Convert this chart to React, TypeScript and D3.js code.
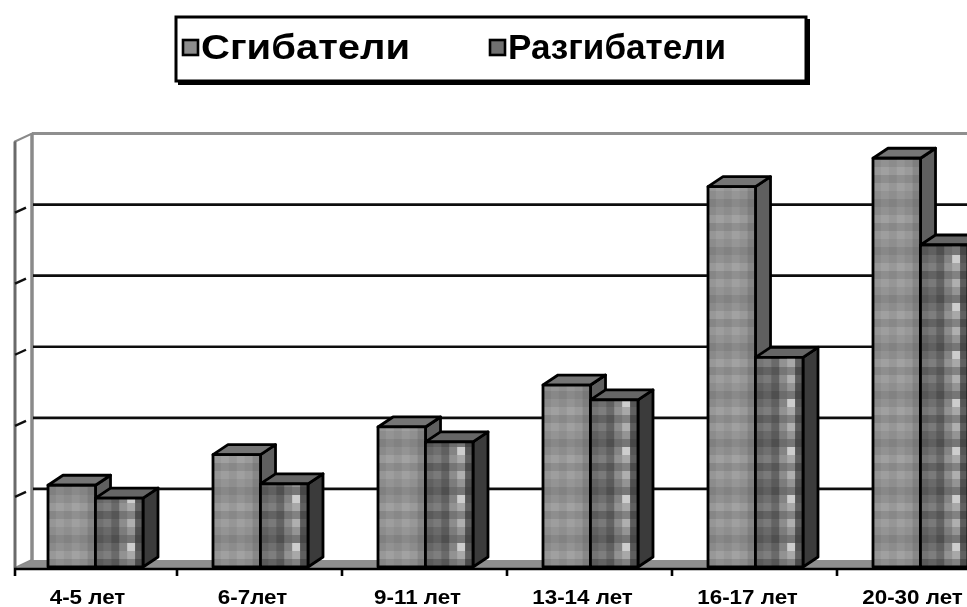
import React from "react";
import * as d3 from "d3";

// Age groups and muscle-group strength values
const categories = ["4-5 лет", "6-7лет", "9-11 лет", "13-14 лет", "16-17 лет", "20-30 лет"];
const seriesNames = ["Сгибатели", "Разгибатели"];
const flexors = [11.5, 15.8, 19.7, 25.6, 53.5, 57.5];
const extensors = [9.7, 11.7, 17.6, 23.5, 29.5, 45.3];
const gridTicks = [0, 10, 20, 30, 40, 50, 60];

const W = 967;
const H = 607;

// 3D projection offsets
const WALL_DX = 17;
const WALL_DY = -8;
const BAR_DX = 15;
const BAR_DY = -10;

// Checker tiles giving each series its grainy gray texture (gray levels, 6x6 cells)
const flexTile = [
  [150, 158, 150, 160, 152, 135],
  [140, 148, 142, 150, 144, 128],
  [128, 136, 130, 138, 132, 120],
  [138, 146, 140, 148, 140, 126],
  [152, 160, 152, 162, 154, 136],
  [134, 142, 136, 144, 138, 124],
];
const extTile = [
  [112, 122, 100, 140, 175, 92],
  [96, 106, 90, 124, 148, 80],
  [86, 96, 80, 108, 118, 70],
  [102, 112, 96, 132, 205, 86],
  [116, 126, 106, 146, 168, 96],
  [90, 100, 86, 116, 130, 76],
];
const gray = (v: number) => `rgb(${v},${v},${v})`;

export default function App() {
  const x = d3.scaleBand<string>().domain(categories).range([12, 1002]);
  const groupW = 95;
  const inner = d3.scaleBand<string>().domain(seriesNames).range([0, groupW]);
  const barW = inner.bandwidth();

  // back wall scale and bar (front) scale
  const yWall = d3.scaleLinear().domain([0, 60]).range([560, 133.5]);
  const yBar = d3.scaleLinear().domain([0, 60]).range([567, 567 - 426.5]);

  const frontX = 15;
  const wallX = frontX + WALL_DX;
  const axisY = 569;

  const bars: { key: string; s: number; x0: number; yTop: number; yBot: number }[] = [];
  categories.forEach((c, i) => {
    const gx = (x(c) as number) + x.bandwidth() / 2 - groupW / 2 + 1;
    [flexors[i], extensors[i]].forEach((v, s) => {
      bars.push({
        key: `${i}-${s}`,
        s,
        x0: gx + (inner(seriesNames[s]) as number),
        yTop: yBar(v),
        yBot: yBar(0),
      });
    });
  });

  const tiles = [flexTile, extTile];
  const cell = barW / 6;
  const sideFill = ["#5f5f5f", "#3a3a3a"];
  const topFill = ["#747474", "#666666"];
  const swatchFill = ["#8c8c8c", "#707070"];

  return (
    <svg
      width={W}
      height={H}
      viewBox={`0 0 ${W} ${H}`}
      style={{ position: "absolute", left: 0, top: 0, background: "#fff" }}
    >
      <defs>
        {bars.map((b) => (
          <pattern
            key={b.key}
            id={`tex-${b.key}`}
            patternUnits="userSpaceOnUse"
            x={b.x0}
            y={b.yBot}
            width={barW}
            height={48}
          >
            {tiles[b.s].map((row, r) =>
              row.map((v, k) => (
                <rect key={`${r}-${k}`} x={k * cell} y={r * 8} width={cell + 0.3} height={8.3} fill={gray(v)} />
              ))
            )}
          </pattern>
        ))}
        <filter id="soft" x="-5%" y="-5%" width="110%" height="110%">
          <feGaussianBlur stdDeviation="0.45" />
        </filter>
      </defs>

      <g filter="url(#soft)">
        {/* side wall */}
        <polygon
          points={`${frontX},${yWall(60) - WALL_DY} ${wallX},${yWall(60)} ${wallX},${yWall(0)} ${frontX},${yWall(0) - WALL_DY}`}
          fill="#fff"
          stroke="#8a8a8a"
          strokeWidth={2}
        />
        {/* back wall edges */}
        <line x1={wallX} x2={W} y1={yWall(60)} y2={yWall(60)} stroke="#8f8f8f" strokeWidth={3} />
        <line x1={wallX} x2={wallX} y1={yWall(60)} y2={yWall(0)} stroke="#8a8a8a" strokeWidth={3.5} />
        <line x1={frontX} x2={frontX} y1={yWall(60) - WALL_DY} y2={axisY} stroke="#6a6a6a" strokeWidth={3} />

        {/* gridlines */}
        {gridTicks
          .filter((t) => t > 0 && t < 60)
          .map((t) => (
            <g key={t}>
              <line x1={wallX + 1} x2={W} y1={yWall(t)} y2={yWall(t)} stroke="#111" strokeWidth={2.6} />
              <line
                x1={frontX}
                y1={yWall(t) + 8}
                x2={frontX + 11}
                y2={yWall(t) + 3}
                stroke="#111"
                strokeWidth={2.4}
              />
            </g>
          ))}

        {/* floor */}
        <polygon
          points={`${frontX},${axisY} ${wallX},${yWall(0)} ${W},${yWall(0)} ${W},${axisY}`}
          fill="#8e8e8e"
        />

        {/* bars */}
        {bars.map((b) => {
          const x0 = b.x0;
          const x1 = b.x0 + barW;
          return (
            <g key={b.key} stroke="#000" strokeWidth={2.8} strokeLinejoin="round">
              <polygon
                points={`${x1},${b.yTop} ${x1 + BAR_DX},${b.yTop + BAR_DY} ${x1 + BAR_DX},${b.yBot + BAR_DY} ${x1},${b.yBot}`}
                fill={sideFill[b.s]}
              />
              <polygon
                points={`${x0},${b.yTop} ${x0 + BAR_DX},${b.yTop + BAR_DY} ${x1 + BAR_DX},${b.yTop + BAR_DY} ${x1},${b.yTop}`}
                fill={topFill[b.s]}
              />
              <rect x={x0} y={b.yTop} width={barW} height={b.yBot - b.yTop} fill={`url(#tex-${b.key})`} />
            </g>
          );
        })}

        {/* category axis */}
        <line x1={frontX - 1} x2={W} y1={axisY} y2={axisY} stroke="#000" strokeWidth={2.6} />
        {categories.map((c, i) => {
          const tx = i === 0 ? frontX : (x(c) as number);
          return <line key={c} x1={tx} x2={tx} y1={axisY} y2={axisY + 7} stroke="#000" strokeWidth={2.6} />;
        })}
        {categories.map((c) => {
          const cx = (x(c) as number) + x.bandwidth() / 2 - 7;
          return (
            <text
              key={c}
              transform={`translate(${cx},604) scale(1.12,1)`}
              textAnchor="middle"
              fontFamily="Liberation Sans, Arial, sans-serif"
              fontWeight="bold"
              fontSize={20}
              fill="#000"
            >
              {c}
            </text>
          );
        })}

        {/* legend */}
        <rect x={178} y={19} width={632} height={66} fill="#000" />
        <rect x={176} y={17} width={630} height={64} fill="#fff" stroke="#000" strokeWidth={3} />
        {seriesNames.map((n, i) => {
          const sx = i === 0 ? 183 : 490;
          return (
            <g key={n}>
              <rect x={sx} y={40} width={15} height={15} fill={swatchFill[i]} stroke="#000" strokeWidth={2.6} />
              <text
                x={sx + 18}
                y={59}
                fontFamily="Liberation Sans, Arial, sans-serif"
                fontWeight="bold"
                fontSize={35}
                textLength={i === 0 ? 209 : 218}
                lengthAdjust="spacingAndGlyphs"
                fill="#000"
              >
                {n}
              </text>
            </g>
          );
        })}
      </g>
    </svg>
  );
}
